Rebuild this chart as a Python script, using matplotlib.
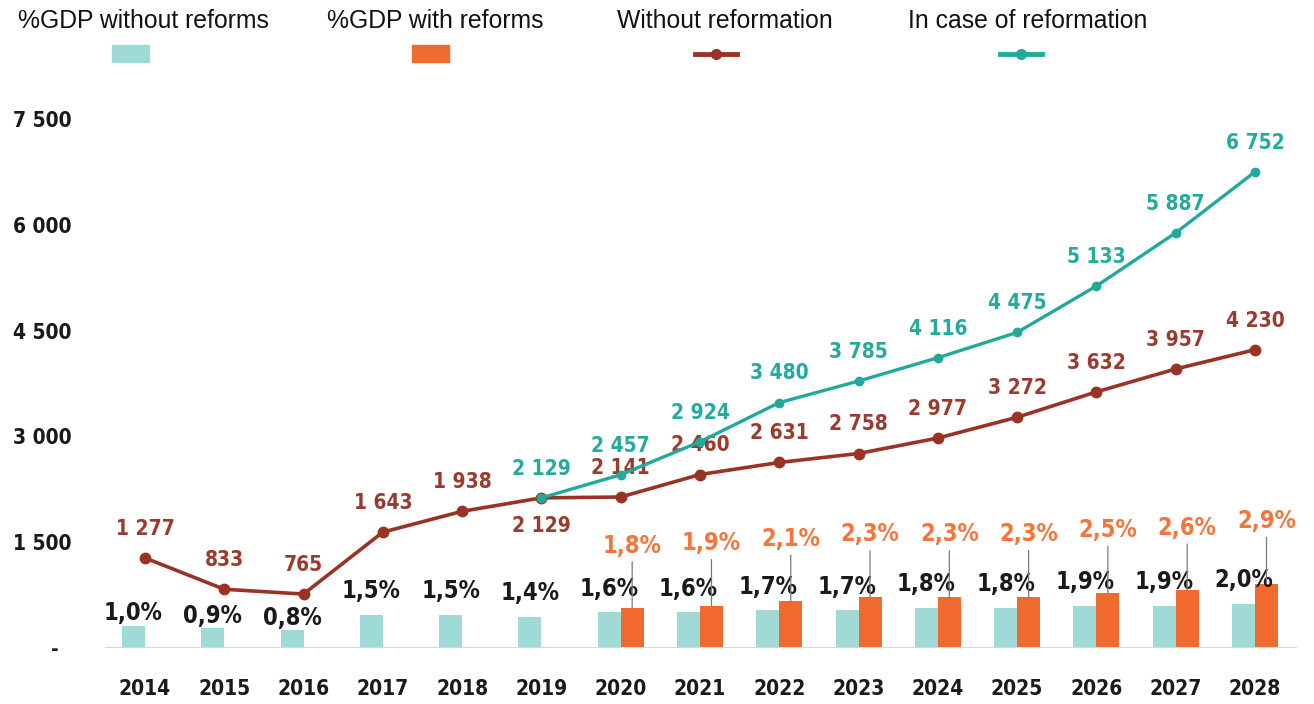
import matplotlib.pyplot as plt
from matplotlib.patches import Rectangle
from matplotlib.lines import Line2D

years = [2014, 2015, 2016, 2017, 2018, 2019, 2020, 2021, 2022, 2023, 2024, 2025, 2026, 2027, 2028]
without_reform = [1277, 833, 765, 1643, 1938, 2129, 2141, 2460, 2631, 2758, 2977, 3272, 3632, 3957, 4230]
reform_years = [2019, 2020, 2021, 2022, 2023, 2024, 2025, 2026, 2027, 2028]
with_reform = [2129, 2457, 2924, 3480, 3785, 4116, 4475, 5133, 5887, 6752]
gdp_without = [1.0, 0.9, 0.8, 1.5, 1.5, 1.4, 1.6, 1.6, 1.7, 1.7, 1.8, 1.8, 1.9, 1.9, 2.0]
gdp_years = [2020, 2021, 2022, 2023, 2024, 2025, 2026, 2027, 2028]
gdp_with = [1.8, 1.9, 2.1, 2.3, 2.3, 2.3, 2.5, 2.6, 2.9]
yticks = [0, 1500, 3000, 4500, 6000, 7500]

RED = "#9a3324"
TEAL = "#21a99a"
LIGHT = "#9fdad7"
ORANGE = "#ef6a2c"

FONT = dict(family="DejaVu Sans", stretch="condensed", weight="bold")

W, H = 1314, 704
fig = plt.figure(figsize=(W / 100, H / 100), dpi=100)
ax = fig.add_axes([105 / W, 1 - 648 / H, (1297 - 105) / W, (648 - 105) / H])
ax2 = ax.twinx()

idx = {y: i for i, y in enumerate(years)}
bw = 0.29

# bars on the % axis
xs = [idx[y] for y in years]
ax2.bar([x - bw / 2 for x in xs], gdp_without, width=bw, color=LIGHT, zorder=2)
xo = [idx[y] + bw / 2 for y in gdp_years]
ax2.bar(xo, gdp_with, width=bw, color=ORANGE, zorder=2)

for i, (x, v) in enumerate(zip(xs, gdp_without)):
    off = 9 if i < 3 else 17
    ax2.annotate(f"{v:.1f}%".replace(".", ","), (x - bw / 2, v), xytext=(0, off),
                 textcoords="offset points", ha="center", va="center",
                 color="#1a1a1a", fontsize=17, **FONT)
for x, v in zip(xo, gdp_with):
    ax2.annotate(f"{v:.1f}%".replace(".", ","), (x, v), xytext=(0, 45),
                 textcoords="offset points", ha="center", va="center",
                 color="#f4763c", fontsize=17, **FONT,
                 arrowprops=dict(arrowstyle="-", color="#7a7a7a", lw=0.9,
                                 shrinkA=1, shrinkB=0))

# lines on the main axis
ax.set_zorder(ax2.get_zorder() + 1)
ax.patch.set_visible(False)
ax.plot(xs, without_reform, color=RED, lw=2.6, marker="o", ms=7.5, zorder=3)
xr = [idx[y] for y in reform_years]
ax.plot(xr, with_reform, color=TEAL, lw=2.4, marker="o", ms=6, zorder=4)

def fmt(v):
    return f"{v:,}".replace(",", " ")

for y, x, v in zip(years, xs, without_reform):
    off = -20 if y == 2019 else 21
    ax.annotate(fmt(v), (x, v), xytext=(0, off), textcoords="offset points",
                ha="center", va="center", color="#9b3a2e", fontsize=15, **FONT)
for x, v in zip(xr, with_reform):
    ax.annotate(fmt(v), (x, v), xytext=(0, 21), textcoords="offset points",
                ha="center", va="center", color="#26aa9c", fontsize=15, **FONT)

ax.set_xlim(-0.504, 14.53)
ax.set_ylim(0, 7700)
ax2.set_ylim(0, 24.46)
ax.set_xticks(xs)
ax.set_xticklabels([str(y) for y in years])
ax.set_yticks(yticks)
ax.set_yticklabels(["-  "] + [fmt(t) for t in yticks[1:]])
ax.tick_params(axis="x", length=0, pad=22)
ax.tick_params(axis="y", length=0, pad=24)
for lab in ax.get_xticklabels() + ax.get_yticklabels():
    lab.set_fontproperties(dict(size=15, **FONT))
    lab.set_color("#1a1a1a")
ax2.set_yticks([])
for a in (ax, ax2):
    for s in a.spines.values():
        s.set_visible(False)
ax.axhline(0, color="#d6d6d6", lw=1.5, zorder=1)

# legend across the top
legend_text = ["%GDP without reforms", "%GDP with reforms", "Without reformation", "In case of reformation"]
text_x = [18, 327, 617, 908]
for t, x in zip(legend_text, text_x):
    fig.text(x / W, 1 - 21 / H, t, fontsize=17.8, family="Liberation Sans", va="center", color="#111111")
fig.add_artist(Rectangle((112 / W, 1 - 62 / H), 37 / W, 17 / H, color=LIGHT, transform=fig.transFigure))
fig.add_artist(Rectangle((412 / W, 1 - 62 / H), 37 / W, 17 / H, color=ORANGE, transform=fig.transFigure))
for x0, c in [(695, RED), (1000, TEAL)]:
    fig.add_artist(Line2D([x0 / W, (x0 + 21) / W, (x0 + 42) / W], [1 - 54 / H] * 3, color=c, lw=3.5,
                          marker="o", ms=7, markevery=[1], transform=fig.transFigure))

fig.savefig("out.png", dpi=100)
